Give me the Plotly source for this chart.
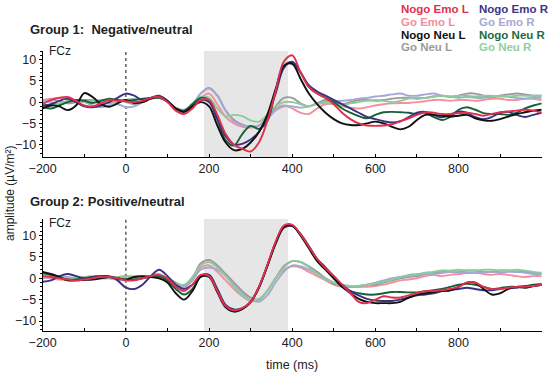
import plotly.graph_objects as go

# time axis (ms)
time_ms = list(range(-200, 1001, 20))

# Group 1: Negative/neutral
g1_nogo_emo_l = [-0.5, 0.5, 1.0, 1.2, 0.3, -0.8, -1.0, -0.3, 0.5, 0.3,
                 0.2, 0.0, 0.3, 1.0, 1.2, 0.0, -2.0, -2.8, -1.5, 0.5,
                 0.5, -3.0, -7.5, -10.0, -11.0, -11.6, -9.5, -4.5, 2.5, 9.5,
                 11.0, 7.0, 3.6, 2.0, 1.0, -0.5, -2.5, -4.0, -5.0, -5.5,
                 -5.6, -5.5, -5.2, -4.5, -3.8, -3.0, -2.4, -2.5, -2.8, -2.8,
                 -2.6, -2.5, -2.8, -3.2, -2.8, -2.4, -2.2, -2.0, -1.8, -2.0,
                 -2.5]
g1_nogo_neu_l = [-1.5, -0.8, -1.0, -1.9, -0.8, 2.1, 1.2, -0.5, -1.1, -0.3,
                 0.5, -0.2, 0.0, 0.8, 1.2, 0.2, -1.5, -2.3, -1.0, 0.0,
                 -1.0, -5.5, -9.5, -11.3, -11.0, -9.5, -7.0, -3.0, 3.0, 8.5,
                 9.0, 5.5, 2.0, -0.5, -2.5, -4.0, -5.0, -5.4, -5.4, -5.0,
                 -4.6, -5.0, -5.8, -6.4, -5.8, -4.2, -3.0, -3.0, -3.2, -3.4,
                 -3.2, -3.0, -3.8, -4.3, -4.4, -4.0, -3.4, -2.8, -2.4, -2.0,
                 -1.8]
g1_nogo_emo_r = [-0.8, -0.5, 0.3, 0.8, 0.0, -1.0, -1.2, -0.8, 0.0, 1.0,
                 2.0, 1.5, 0.5, 1.0, 1.5, 0.3, -1.5, -2.2, -1.0, 0.5,
                 0.0, -4.0, -8.0, -10.0, -9.8, -8.8, -7.0, -3.5, 2.0, 8.0,
                 9.5, 7.0, 4.0, 2.5, 1.5, 0.5, -0.5, -1.5, -2.5, -3.5,
                 -4.0, -4.5, -4.8, -4.5, -3.5, -2.5, -2.3, -3.0, -3.6, -3.0,
                 -2.2, -2.5, -3.5, -4.0, -3.5, -2.5, -2.3, -3.0, -3.5, -3.0,
                 -2.5]
g1_nogo_neu_r = [-1.2, -1.5, -0.8, 0.0, 0.5, 0.3, -0.2, 0.3, 0.8, 0.5,
                 0.3, 0.5, 0.8, 1.0, 1.0, 0.2, -1.5, -2.0, -0.5, 1.0,
                 0.5, -4.0, -9.0, -10.2, -7.5, -5.6, -6.3, -4.5, 2.5, 8.5,
                 9.3, 7.0, 3.5, 2.0, 1.0, 0.0, -1.5, -2.5, -3.3, -3.8,
                 -3.0, -2.4, -2.3, -2.4, -2.5, -2.8, -2.5, -3.5, -4.2, -3.5,
                 -1.8, -1.2, -1.8, -2.6, -2.8, -2.8, -3.0, -2.5, -1.5, -0.8,
                 -0.3]
g1_go_emo_l = [0.5, 0.8, 1.0, 0.5, 0.0, 0.3, 0.5, 0.0, -0.3, 0.0,
               0.5, 0.3, 0.0, 0.8, 1.3, 0.3, -1.8, -2.5, -1.0, 1.0,
               2.0, -0.5, -3.5, -5.0, -5.8, -6.0, -5.5, -3.5, -1.5, -0.8,
               -1.5, -2.5, -2.8, -1.5, -0.5, -0.5, -1.0, -1.3, -1.5, -1.2,
               -0.8, -0.5, -0.3, -0.2, -0.2, 0.0, 0.2, 0.5, 0.5, 0.3,
               0.5, 0.5, 0.3, 0.5, 0.8, 0.8, 0.5, 0.5, 0.8, 0.8,
               0.5]
g1_go_emo_r = [0.3, 0.0, -0.5, 0.0, 0.5, 0.0, -0.8, -1.2, -0.8, -0.5,
               -1.2, -1.0, 0.0, 0.8, 1.0, 0.0, -1.5, -2.0, -0.5, 2.0,
               3.2, 1.5, -2.0, -4.5, -5.5, -5.8, -5.5, -4.0, -2.0, -1.0,
               -1.0, -1.3, -1.0, -0.3, 0.0, 0.2, 0.3, 0.5, 0.8, 1.0,
               1.3, 1.5, 1.8, 2.0, 1.5, 1.5, 1.8, 2.0, 1.5, 1.3,
               1.0, 1.2, 1.0, 1.0, 1.2, 1.5, 1.2, 1.0, 0.8, 1.0,
               1.0]
g1_go_neu_l = [0.0, 0.5, 0.3, -0.3, 0.0, 0.5, 0.3, -0.5, 0.0, 0.5,
               0.0, -0.5, 0.0, 1.0, 1.3, 0.3, -1.5, -2.3, -0.8, 2.0,
               3.3, 1.5, -2.0, -4.2, -5.3, -5.8, -5.5, -4.0, -1.0, 1.0,
               1.0, -0.3, -1.0, -0.3, 0.5, 0.0, -0.5, 0.0, 0.5, 0.5,
               0.3, 0.5, 0.8, 1.0, 1.0, 0.8, 1.0, 1.3, 1.5, 1.2,
               1.5, 2.0, 2.0, 1.5, 1.2, 1.5, 1.8, 2.0, 1.8, 1.5,
               1.5]
g1_go_neu_r = [-0.5, -0.8, -0.3, 0.3, 0.5, 0.0, 0.3, 0.5, 0.3, 0.0,
               0.5, 0.8, 0.5, 0.8, 1.0, 0.2, -1.3, -1.8, -0.3, 1.2,
               1.0, -1.5, -3.3, -3.0, -3.3, -4.3, -4.6, -3.0, -1.0, 0.0,
               0.0, -0.5, -1.0, -0.5, -0.2, -0.5, -0.8, -0.3, 0.0, 0.3,
               0.5, 0.3, 0.0, 0.3, 0.8, 1.0, 1.0, 1.3, 1.5, 1.3,
               1.5, 1.5, 1.3, 1.5, 1.5, 1.3, 1.3, 1.5, 1.5, 1.5,
               1.5]

# Group 2: Positive/neutral
g2_nogo_emo_l = [0.5, 0.3, 0.0, -0.3, -0.5, -0.3, 0.0, 0.3, 0.3, 0.0,
                 -0.5, -0.5, 0.0, 0.5, 0.8, 0.0, -2.0, -3.0, -1.5, 0.8,
                 0.5, -3.0, -6.5, -7.5, -7.0, -5.5, -2.0, 3.0, 8.5, 12.3,
                 12.5, 10.3, 7.4, 4.5, 2.3, 0.5, -1.5, -3.5, -5.5, -5.8,
                 -5.0, -4.2, -4.5, -4.5, -4.0, -3.5, -3.0, -3.0, -2.8, -2.5,
                 -2.0, -1.0, -1.0, -2.0, -2.5, -2.5, -2.2, -2.0, -2.0, -1.8,
                 -1.5]
g2_nogo_neu_l = [1.5, 1.0, 0.3, -0.5, -0.5, -0.4, -0.3, 0.0, 0.3, 0.0,
                 -0.3, 0.3, 0.5, 0.3, 0.0, -1.0, -3.5, -5.0, -3.0, 0.3,
                 0.3, -3.3, -6.8, -7.8, -7.2, -5.6, -2.2, 2.8, 8.2, 12.0,
                 12.3, 10.0, 7.0, 4.0, 2.0, 0.0, -2.0, -3.5, -4.8, -5.5,
                 -5.8, -5.8, -5.8, -5.5, -4.5, -3.8, -3.5, -3.2, -3.0, -2.8,
                 -2.0, -1.0, -1.0, -2.5, -3.8, -3.5, -2.5, -2.0, -2.2, -1.8,
                 -1.5]
g2_nogo_emo_r = [-0.8, -0.5, 0.5, 1.0, 0.5, 0.0, 0.3, 0.5, 0.5, -0.5,
                 -2.2, -2.5, -1.5, 0.5, 2.0, 0.5, -1.5, -2.5, -1.5, 0.5,
                 0.8, -2.5, -6.2, -7.3, -7.0, -5.5, -2.2, 2.8, 8.0, 11.8,
                 12.2, 10.3, 7.5, 4.5, 2.5, 0.5, -1.5, -3.0, -4.0, -4.8,
                 -5.2, -5.3, -5.3, -5.0, -4.5, -4.0, -3.8, -3.5, -3.0, -2.8,
                 -2.5, -2.2, -2.5, -2.8, -2.8, -2.5, -2.3, -2.2, -2.0, -1.8,
                 -1.5]
g2_nogo_neu_r = [1.2, 0.8, 0.2, -0.3, -0.3, 0.0, 0.3, 0.5, 0.3, 0.0,
                 -0.3, -0.3, 0.0, 0.5, 0.5, -0.5, -2.5, -3.8, -2.5, 0.5,
                 0.8, -2.8, -6.5, -7.5, -7.0, -5.5, -2.0, 3.0, 8.3, 12.0,
                 12.3, 10.3, 7.5, 4.5, 2.5, 0.0, -2.0, -3.0, -3.5, -3.8,
                 -3.8, -3.5, -3.2, -3.2, -3.3, -3.3, -3.0, -2.8, -2.5, -2.0,
                 -1.5, -1.3, -1.5, -2.0, -2.5, -2.3, -2.0, -2.0, -1.8, -1.5,
                 -1.3]
g2_go_emo_l = [0.3, 0.0, -0.3, -0.3, 0.0, 0.3, 0.3, 0.0, 0.0, 0.3,
               0.5, 0.3, 0.3, 0.5, 0.5, -0.3, -1.5, -2.0, -0.5, 2.5,
               3.0, 1.5, -0.5, -2.5, -4.2, -5.3, -5.0, -3.0, 0.0, 2.0,
               2.8, 2.5, 1.5, 0.5, -0.5, -1.5, -2.0, -2.0, -2.0, -2.0,
               -1.8, -1.5, -1.0, -0.5, -0.3, 0.0, 0.5, 0.8, 0.5, 0.8,
               1.0, 1.2, 1.3, 1.0, 0.8, 1.0, 0.8, 0.5, 0.3, 0.5,
               0.5]
g2_go_emo_r = [0.0, 0.3, 0.5, 0.3, 0.0, -0.3, 0.0, 0.3, 0.0, -0.3,
               -0.5, -0.3, 0.0, 0.5, 1.0, 0.0, -1.3, -2.0, -0.5, 2.0,
               2.5, 2.0, 0.5, -1.5, -3.5, -5.0, -5.5, -4.0, -1.0, 1.5,
               3.0, 2.8, 2.0, 1.0, 0.0, -1.0, -1.8, -2.0, -2.0, -1.5,
               -1.0, -0.5, 0.0, 0.3, 0.5, 0.8, 1.0, 1.0, 1.2, 1.5,
               1.5, 1.3, 1.3, 1.5, 1.5, 1.3, 1.5, 1.5, 1.3, 1.0,
               1.0]
g2_go_neu_l = [0.5, 0.5, 0.3, 0.0, -0.3, 0.0, 0.3, 0.5, 0.3, 0.3,
               0.5, 0.3, 0.0, 0.3, 0.8, 0.0, -1.0, -1.8, 0.0, 3.5,
               4.3, 3.0, 1.0, -1.0, -3.0, -4.5, -5.0, -3.0, 0.0, 2.8,
               4.0, 3.8, 2.8, 1.5, 0.0, -1.3, -1.8, -2.0, -1.8, -1.5,
               -1.5, -1.0, -0.5, 0.0, 0.3, 0.5, 1.0, 1.3, 1.5, 1.5,
               1.5, 1.8, 1.8, 1.5, 1.5, 1.8, 1.8, 1.5, 1.5, 1.3,
               1.0]
g2_go_neu_r = [0.8, 0.5, 0.3, 0.0, 0.0, 0.3, 0.5, 0.5, 0.3, 0.3,
               0.3, 0.5, 0.5, 0.5, 0.8, 0.0, -1.2, -1.5, 0.3, 3.0,
               3.8, 2.5, 0.5, -2.0, -4.0, -5.0, -4.8, -3.0, 0.0, 2.5,
               4.0, 3.8, 2.5, 1.0, -0.3, -1.0, -1.5, -1.8, -1.8, -1.5,
               -1.2, -0.8, -0.3, 0.3, 0.8, 1.0, 1.3, 1.5, 1.8, 1.8,
               2.0, 1.8, 1.8, 2.0, 2.0, 1.8, 1.8, 2.0, 1.8, 1.5,
               1.3]

condition_names = ["Nogo Emo L", "Go Emo L", "Nogo Neu L", "Go Neu L",
                   "Nogo Emo R", "Go Emo R", "Nogo Neu R", "Go Neu R"]
line_colors = {
    "Nogo Emo L": "#e0304c", "Go Emo L": "#f2909c",
    "Nogo Neu L": "#111111", "Go Neu L": "#9a9a9a",
    "Nogo Emo R": "#3b3183", "Go Emo R": "#a4a8d4",
    "Nogo Neu R": "#17603a", "Go Neu R": "#8ccb9b",
}
text_colors = {
    "Nogo Emo L": "#e0304c", "Go Emo L": "#f0909c",
    "Nogo Neu L": "#111111", "Go Neu L": "#9a9a9a",
    "Nogo Emo R": "#3d3585", "Go Emo R": "#a6a9d6",
    "Nogo Neu R": "#1d6b45", "Go Neu R": "#8fd0a0",
}

group1 = {"Nogo Emo L": g1_nogo_emo_l, "Go Emo L": g1_go_emo_l,
          "Nogo Neu L": g1_nogo_neu_l, "Go Neu L": g1_go_neu_l,
          "Nogo Emo R": g1_nogo_emo_r, "Go Emo R": g1_go_emo_r,
          "Nogo Neu R": g1_nogo_neu_r, "Go Neu R": g1_go_neu_r}
group2 = {"Nogo Emo L": g2_nogo_emo_l, "Go Emo L": g2_go_emo_l,
          "Nogo Neu L": g2_nogo_neu_l, "Go Neu L": g2_go_neu_l,
          "Nogo Emo R": g2_nogo_emo_r, "Go Emo R": g2_go_emo_r,
          "Nogo Neu R": g2_nogo_neu_r, "Go Neu R": g2_go_neu_r}

draw_order = ["Go Emo L", "Go Neu L", "Go Emo R", "Go Neu R",
              "Nogo Neu R", "Nogo Emo R", "Nogo Neu L", "Nogo Emo L"]

W, H = 550, 379
FONT = "Liberation Sans, Arial, sans-serif"

fig = go.Figure()
for grp, xa, ya in [(group1, "x", "y"), (group2, "x2", "y2")]:
    for name in draw_order:
        fig.add_trace(go.Scatter(
            x=time_ms, y=grp[name], mode="lines", name=name,
            xaxis=xa, yaxis=ya, showlegend=False, hoverinfo="skip",
            line=dict(color=line_colors[name], width=1.9, shape="spline", smoothing=1.0),
        ))

def px(x):
    return x / W

def py(y):
    return 1 - y / H

x_dom = [px(42.7), px(541.7)]
axis_common = dict(showline=True, linecolor="black", linewidth=1.2, showgrid=False,
                   zeroline=False, automargin=False,
                   tickfont=dict(family=FONT, size=12.5, color="#222"))
xaxis_cfg = dict(axis_common, range=[-200, 1000], tickvals=[-200, 0, 200, 400, 600, 800],
                 ticks="inside", ticklen=3, tickcolor="black",
                 minor=dict(dtick=100, tick0=0, ticks="inside", ticklen=3, tickcolor="black"),
                 domain=x_dom)
fig.update_layout(
    template="none",
    width=W, height=H, margin=dict(l=0, r=0, t=0, b=0, pad=0),
    paper_bgcolor="white", plot_bgcolor="white",
    xaxis=dict(xaxis_cfg, anchor="y"),
    yaxis=dict(axis_common, range=[-12.9, 12.0], tickvals=[-10, -5, 0, 5, 10],
               ticks="outside", ticklen=3, tickcolor="black",
               minor=dict(dtick=1, ticks="outside", ticklen=2, tickcolor="black"),
               domain=[py(157), py(51)], anchor="x"),
    xaxis2=dict(xaxis_cfg, anchor="y2"),
    yaxis2=dict(axis_common, range=[-12.25, 13.85], tickvals=[-10, -5, 0, 5, 10],
                ticks="outside", ticklen=3, tickcolor="black",
                minor=dict(dtick=1, ticks="outside", ticklen=2, tickcolor="black"),
                domain=[py(330.7), py(219)], anchor="x2"),
)

shapes = []
for xr, yr in [("x", "y domain"), ("x2", "y2 domain")]:
    shapes.append(dict(type="rect", xref=xr, yref=yr, x0=188, x1=390, y0=0, y1=1,
                       fillcolor="#e6e6e6", line=dict(width=0), layer="below"))
    shapes.append(dict(type="line", xref=xr, yref=yr, x0=0, x1=0, y0=0, y1=1,
                       line=dict(color="#333", width=1.2, dash="dot"), layer="below"))
fig.update_layout(shapes=shapes)

ann = []
ann.append(dict(text="<b>Group 1:  Negative/neutral</b>", x=px(28), y=py(29.5), xref="paper", yref="paper",
                xanchor="left", yanchor="middle", showarrow=False,
                font=dict(family=FONT, size=13, color="#222")))
ann.append(dict(text="<b>Group 2: Positive/neutral</b>", x=px(28), y=py(201.5), xref="paper", yref="paper",
                xanchor="left", yanchor="middle", showarrow=False,
                font=dict(family=FONT, size=13, color="#222")))
for yy in [51, 223]:
    ann.append(dict(text="FCz", x=px(47), y=py(yy), xref="paper", yref="paper",
                    xanchor="left", yanchor="middle", showarrow=False,
                    font=dict(family=FONT, size=12, color="#222")))
ann.append(dict(text="amplitude (µV/m²)", x=px(10), y=py(193), xref="paper", yref="paper",
                xanchor="center", yanchor="middle", textangle=-90, showarrow=False,
                font=dict(family=FONT, size=12, color="#222")))
ann.append(dict(text="time (ms)", x=px(292), y=py(365), xref="paper", yref="paper",
                xanchor="center", yanchor="middle", showarrow=False,
                font=dict(family=FONT, size=12.5, color="#222")))

legend_rows = [9, 22, 34.5, 47]
legend_cols = [399, 477]
legend_layout = [["Nogo Emo L", "Go Emo L", "Nogo Neu L", "Go Neu L"],
                 ["Nogo Emo R", "Go Emo R", "Nogo Neu R", "Go Neu R"]]
for ci, col in enumerate(legend_layout):
    for ri, name in enumerate(col):
        ann.append(dict(text="<b>" + name + "</b>", x=px(legend_cols[ci]), y=py(legend_rows[ri]),
                        xref="paper", yref="paper", xanchor="left", yanchor="middle",
                        showarrow=False,
                        font=dict(family=FONT, size=11.5, color=text_colors[name])))
fig.update_layout(annotations=ann)

# remove the default page margin so the figure fills the window exactly
page_js = ("document.body.style.margin='0';document.body.style.padding='0';"
           "document.documentElement.style.overflow='hidden';")
fig.write_html("out.html", post_script=page_js, config={"displayModeBar": False})
